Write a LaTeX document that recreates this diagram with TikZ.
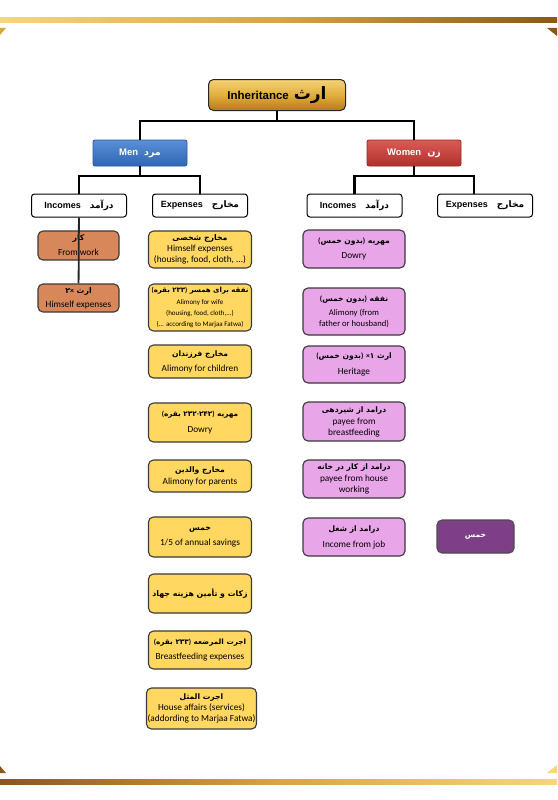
\documentclass[tikz,border=0pt]{standalone}
\usepackage{fontspec}
\setmainfont{Carlito}
\newfontfamily\lat{Carlito}
\newfontfamily\hdr{Liberation Sans}
\newfontfamily\arab[Script=Arabic]{DejaVu Sans}
\TeXXeTstate=1
\usetikzlibrary{calc,backgrounds}
\definecolor{goldL}{HTML}{F7D67C}
\definecolor{goldM}{HTML}{D6A544}
\definecolor{brownD}{HTML}{8A5818}
\definecolor{ttop}{HTML}{F4D276}
\definecolor{tmid}{HTML}{E2AE3E}
\definecolor{tbot}{HTML}{B47A1A}
\definecolor{yel}{HTML}{FFD761}
\definecolor{org}{HTML}{D8875A}
\definecolor{pnk}{HTML}{E8A5E8}
\definecolor{dpur}{HTML}{7E3F88}
\definecolor{bdr}{HTML}{3A3A3A}
\definecolor{blueT}{HTML}{5B8FD6}
\definecolor{blueB}{HTML}{2F65B5}
\definecolor{blueD}{HTML}{2E5A92}
\definecolor{redT}{HTML}{DA5A55}
\definecolor{redB}{HTML}{B0302C}
\definecolor{redD}{HTML}{8E2A28}
% Arabic word (single word, no direction problem)
\newcommand\fa[1]{{\arab\bfseries #1}}
% Arabic line, right to left
\newcommand\ar[2][7.3]{{\arab\bfseries\fontsize{#1}{9}\selectfont\beginR #2\endR}}
% parentheses / signs inside a right-to-left line (glyphs as seen after reversal)
\newcommand\po{{\lat\bfseries )}}
\newcommand\pc{{\lat\bfseries (}}
\newcommand\hy{{\lat\bfseries -}}
\newcommand\tm{{\lat\bfseries ×}}
\newcommand\sm{\fontsize{7}{8.8}\selectfont}
\newcommand\mdm{\fontsize{8.6}{10}\selectfont}
\begin{document}
\begin{tikzpicture}[x=1pt,y=-1pt,
  conn/.style={line width=2.2pt,black},
  colline/.style={line width=1.8pt,black!85},
  hbox/.style={draw=black,line width=1pt,fill=white,rounded corners=3pt,
    minimum width=95pt,minimum height=23pt,inner sep=0pt,
    font=\hdr\bfseries\fontsize{9}{10}\selectfont},
  cbox/.style={draw=bdr,line width=1.1pt,rounded corners=5pt,align=center,
    inner sep=0pt,font=\fontsize{9.3}{11}\selectfont},
  ybox/.style={cbox,fill=yel,minimum width=103pt},
  obox/.style={cbox,fill=org,minimum width=81pt},
  pbox/.style={cbox,fill=pnk,minimum width=102pt},
  sexbox/.style={line width=0.8pt,rounded corners=2pt,minimum width=94pt,
    minimum height=26pt,inner sep=0pt,text=white,
    font=\hdr\bfseries\fontsize{9.5}{11}\selectfont}
]
\useasboundingbox[fill=white] (0,0) rectangle (557,800);
% decorative bars
\shade[left color=goldL,right color=brownD,middle color=goldM] (0,17.5) rectangle (557,22.5);
\fill[goldM] (0,28) -- (6,28) -- (0,35) -- cycle;
\fill[brownD] (557,28) -- (547,28) -- (557,36) -- cycle;
\shade[left color=brownD,right color=goldL,middle color=goldM] (0,779) rectangle (557,784);
\fill[brownD] (0,766) -- (6,773) -- (0,773) -- cycle;
\fill[goldL] (557,765) -- (557,773) -- (547,773) -- cycle;

% title
\node[draw=black!85,line width=1pt,rounded corners=5pt,top color=ttop,bottom color=tbot,middle color=tmid,
  minimum width=137pt,minimum height=31pt,inner sep=0pt] (title) at (277,95)
  {\hdr\bfseries\fontsize{11.5}{13}\selectfont Inheritance\hspace{5pt}{\arab\bfseries\fontsize{17}{18}\selectfont ارث}};

\node[sexbox,draw=blueD,top color=blueT,bottom color=blueB] (men) at (140,153) {Men\hspace{6pt}\fa{مرد}};
\node[sexbox,draw=redD,top color=redT,bottom color=redB] (women) at (414,153) {Women\hspace{6pt}\fa{زن}};

\coordinate (tj) at (277,121);
\draw[conn] (title) -- (tj);
\draw[conn] (men) |- (tj) -| (women);

% headers
\node[hbox] (minc) at (79,205.5) {Incomes\hspace{9pt}\fa{درآمد}};
\node[hbox] (mexp) at (200,205.5) {Expenses\hspace{9pt}\fa{مخارج}};
\node[hbox] (winc) at (354.5,205.5) {Incomes\hspace{9pt}\fa{درآمد}};
\node[hbox] (wexp) at (485,205.5) {Expenses\hspace{9pt}\fa{مخارج}};

\coordinate (mj) at (140,176);
\coordinate (wj) at (414,176);
\coordinate (wed) at ($(wexp.north)+(-11,0)$);
\draw[conn] (men) -- (mj);
\draw[conn] (minc) |- (mj) -| (mexp);
\draw[conn] (women) -- (wj);
\draw[conn] (winc) |- (wj) -| (wed);

% men incomes
\node[obox,minimum height=29pt] (l1) at (78.5,245.5) {\ar[7.8]{کار}\\[4pt]From work};
\node[obox,minimum height=28pt] (l2) at (78.5,298) {\ar[7.8]{ارث \tm{}۲}\\[3pt]Himself expenses};
\draw[colline] (minc) -- (l2);

% men expenses
\node[ybox,minimum height=37pt] (m1) at (200,249.5) {\ar[7.8]{مخارج شخصی}\\Himself expenses\\(housing, food, cloth, ...)};
\node[ybox,minimum height=47pt] (m2) at (200,307.5) {\ar[7]{نفقه برای همسر \po{}۲۳۳ بقره\pc{}}\\[1pt]{\sm Alimony for wife}\\{\sm (housing, food, cloth,...)}\\{\sm (... according to Marjaa Fatwa)}};
\node[ybox,minimum height=33pt] (m3) at (200,361.5) {\ar[7.6]{مخارج فرزندان}\\[4pt]Alimony for children};
\node[ybox,minimum height=39pt] (m4) at (200,422.5) {\ar{مهریه \po{}۲۴۲\hy{}۲۳۲ بقره\pc{}}\\[5pt]Dowry};
\node[ybox,minimum height=32pt] (m5) at (200,476) {\ar[7.6]{مخارج والدین}\\[1pt]Alimony for parents};
\node[ybox,minimum height=40pt] (m6) at (200,537) {\ar[7.8]{خمس}\\[4pt]1/5 of annual savings};
\node[ybox,minimum height=39pt] (m7) at (200,593.5) {\ar[7.8]{زکات و تأمین هزینه جهاد}};
\node[ybox,minimum height=38pt] (m8) at (200,650) {\ar[7.3]{اجرت المرضعه \po{}۲۳۳ بقره\pc{}}\\[4pt]Breastfeeding expenses};
\node[ybox,minimum height=41pt,minimum width=110pt] (m9) at (201.5,708.5) {\ar[7.6]{اجرت المثل}\\House affairs (services)\\(addording to Marjaa Fatwa)};

% women incomes
\node[pbox,minimum height=38pt] (w1) at (354,249) {\ar[7.6]{مهریه \po{}بدون خمس\pc{}}\\[4pt]Dowry};
\node[pbox,minimum height=47pt] (w2) at (354,311.5) {\ar[7.6]{نفقه \po{}بدون خمس\pc{}}\\[3pt]{\mdm Alimony (from}\\{\mdm father or housband)}};
\node[pbox,minimum height=37pt] (w3) at (354,364.5) {\ar[7.6]{ارث ۱\tm{} \po{}بدون خمس\pc{}}\\[5pt]Heritage};
\node[pbox,minimum height=39pt] (w4) at (354,421.5) {\ar[7.6]{درامد از شیردهی}\\[1pt]payee from\\breastfeeding};
\node[pbox,minimum height=38pt] (w5) at (354,479) {\ar[7.6]{درامد از کار در خانه}\\[1pt]payee from house\\working};
\node[pbox,minimum height=38pt] (w6) at (354,537) {\ar[7.6]{درامد از شغل}\\[5pt]Income from job};

% women expenses
\node[cbox,fill=dpur,draw=black!70,text=white,minimum width=77pt,minimum height=33pt] (wx) at (475.5,536.5) {\ar[7.6]{خمس}};

\begin{pgfonlayer}{background}
\draw[colline] (mexp.south) -- (mexp.south |- m9.north);
\draw[colline] (winc.south) -- (winc.south |- w6.north);
\end{pgfonlayer}
\end{tikzpicture}
\end{document}
